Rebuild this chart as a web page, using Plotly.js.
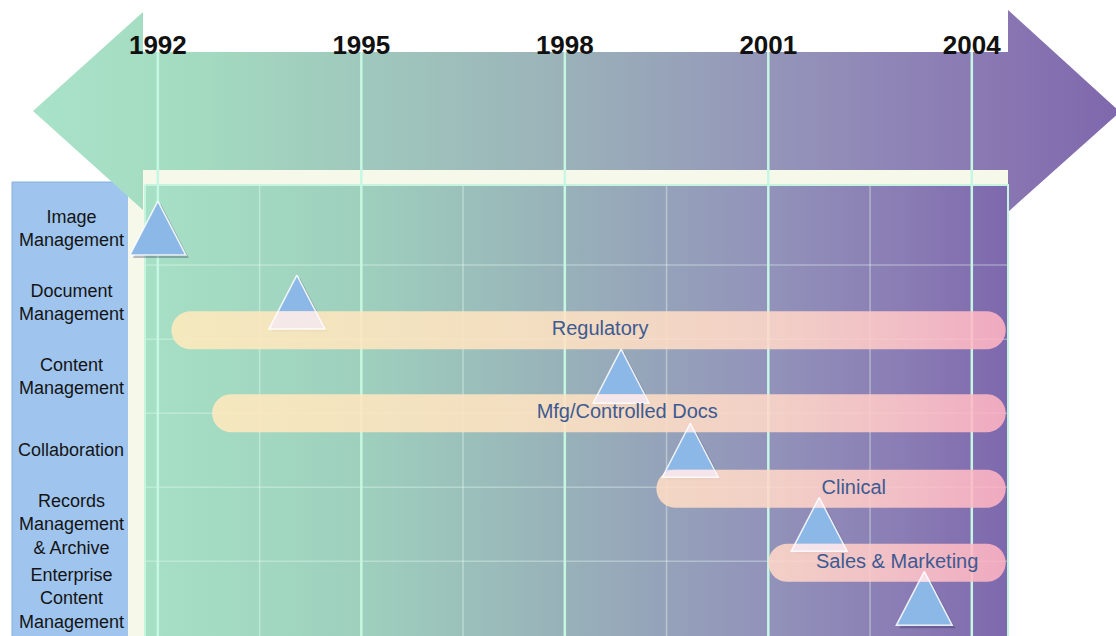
<!DOCTYPE html>
<html><head><meta charset="utf-8">
<script src="https://cdn.plot.ly/plotly-3.0.1.min.js"></script>
<style>html,body{margin:0;padding:0;background:#fff;}#chart{width:1116px;height:636px;}</style>
</head><body><div id="chart"></div>
<script>
// ---------------- data ----------------
const categories = ["Image<br>Management", "Document<br>Management", "Content<br>Management",
  "Collaboration", "Records<br>Management<br>& Archive", "Enterprise<br>Content<br>Management"];
const tickYears = [1992, 1995, 1998, 2001, 2004];
const tickLabels = ["1992", "1995", "1998", "2001", "2004"];
const minorYears = [1993.5, 1996.5, 1999.5, 2002.5];
const rowBoundaries = [0.5, 1.5, 2.5, 3.5, 4.5];
// milestone triangles (one per category)
const milestoneYear = [1992.0, 1994.05, 1998.83, 1999.85, 2001.75, 2003.3];
const milestoneRow = [0, 1, 2, 3, 4, 5];
// industry segments (rounded bars)
const segments = ["Regulatory", "Mfg/Controlled Docs", "Clinical", "Sales & Marketing"];
const segStart = [1992.2, 1992.8, 1999.35, 2001.0];
const segEnd = [2004.5, 2004.5, 2004.5, 2004.5];
const segRow = [1.38, 2.5, 3.52, 4.52];
const segLabelYear = [1998.52, 1998.92, 2002.26, 2002.9];

// ---------------- scales ----------------
const W = 1116, H = 636;
const X_RANGE = [1989.673, 2006.126];
const Y_RANGE = [5.508, -3.079];
const pxPerYear = W / (X_RANGE[1] - X_RANGE[0]);
const pxPerRow = H / (Y_RANGE[0] - Y_RANGE[1]);
const yearAtPx = px => X_RANGE[0] + px / pxPerYear;
const rowAtPx = py => Y_RANGE[1] + py / pxPerRow;

// ---------------- decoration (pixel axes) ----------------
function deco(xs, ys, opts) {
  return Object.assign({type: 'scatter', x: xs, y: ys, fill: 'toself', hoverinfo: 'skip',
    showlegend: false, xaxis: 'x', yaxis: 'y'}, opts);
}
const traces = [];
traces.push(deco([12, 129, 129, 12, 12], [182, 182, 640, 640, 182],
  {mode: 'lines', fillcolor: '#9fc5ef', line: {color: '#88b0e0', width: 1}}));
traces.push(deco([128, 1008, 1008, 145, 145, 128, 128], [170, 170, 186, 186, 640, 640, 170],
  {mode: 'none', fillcolor: '#f6f8ea'}));
traces.push(deco(
  [33, 143, 143, 1008, 1008, 1120, 1008, 1008, 143, 143, 33],
  [111, 12, 52, 52, 10, 112, 212, 170, 170, 210, 111],
  {mode: 'none', fillgradient: {type: 'horizontal', start: 33, stop: 1116,
    colorscale: [[0, '#a8e2c8'], [0.15, '#a3dbc0'], [0.48, '#9bb3b9'], [0.71, '#9391b9'],
      [0.89, '#8977b2'], [1, '#7f68ad']]}}));
traces.push(deco([145, 1008, 1008, 145, 145], [185, 185, 640, 640, 185],
  {mode: 'lines', line: {color: '#c6f4df', width: 2},
    fillgradient: {type: 'horizontal', start: 145, stop: 1008,
      colorscale: [[0, '#a6e0c5'], [0.25, '#9ed0bd'], [0.48, '#98b2b9'], [0.72, '#9293ba'],
        [0.88, '#8a7cb4'], [1, '#7d68ad']]}}));

// ---------------- data layer ----------------
function dataTrace(opts) {
  return Object.assign({type: 'scatter', hoverinfo: 'skip', showlegend: false, xaxis: 'x2', yaxis: 'y2'}, opts);
}
// horizontal row dividers
let hx = [], hy = [];
rowBoundaries.forEach(r => { hx.push(yearAtPx(146), yearAtPx(1007), null); hy.push(r, r, null); });
traces.push(dataTrace({mode: 'lines', x: hx, y: hy, line: {color: 'rgba(235,255,245,0.35)', width: 1.5}}));
// minor vertical lines
let mx = [], my = [];
minorYears.forEach(m => { mx.push(m, m, null); my.push(rowAtPx(186), Y_RANGE[0], null); });
traces.push(dataTrace({mode: 'lines', x: mx, y: my, line: {color: 'rgba(235,255,245,0.4)', width: 1.5}}));
// major year lines
let tx = [], ty = [];
tickYears.forEach(t => { tx.push(t, t, null); ty.push(rowAtPx(52), Y_RANGE[0], null); });
traces.push(dataTrace({mode: 'lines', x: tx, y: ty, line: {color: '#c6f7e2', width: 2.5}}));

// triangles
const HW = 28 / pxPerYear, HH = 27 / pxPerRow;
function triPath(dxPx, dyPx) {
  const xs = [], ys = [];
  const ox = dxPx / pxPerYear, oy = dyPx / pxPerRow;
  milestoneYear.forEach((yr, i) => {
    const r = milestoneRow[i];
    xs.push(yr + ox, yr + HW + ox, yr - HW + ox, yr + ox, null);
    ys.push(r - HH + oy, r + HH + oy, r + HH + oy, r - HH + oy, null);
  });
  return {x: xs, y: ys};
}
const sh = triPath(3, 3);
traces.push(dataTrace({mode: 'none', fill: 'toself', x: sh.x, y: sh.y, fillcolor: 'rgba(40,40,80,0.3)'}));
const tr = triPath(0, 0);
traces.push(dataTrace({mode: 'none', fill: 'toself', x: tr.x, y: tr.y, fillcolor: '#8cb8e7'}));

// rounded bars
const R = 19;
const RX = R / pxPerYear, RY = R / pxPerRow;
let bx = [], by = [];
segments.forEach((s, i) => {
  const r = segRow[i];
  const xr = segEnd[i] - RX, xl = segStart[i] + RX;
  const sx = [], sy = [];
  for (let a = -90; a <= 90; a += 10) { const t = a * Math.PI / 180; sx.push(xr + RX * Math.cos(t)); sy.push(r + RY * Math.sin(t)); }
  for (let a = 90; a <= 270; a += 10) { const t = a * Math.PI / 180; sx.push(xl + RX * Math.cos(t)); sy.push(r + RY * Math.sin(t)); }
  sx.push(sx[0]); sy.push(sy[0]);
  bx.push(...sx, null); by.push(...sy, null);
});
traces.push(dataTrace({mode: 'none', fill: 'toself', x: bx, y: by, opacity: 0.88,
  fillgradient: {type: 'horizontal', start: yearAtPx(160), stop: yearAtPx(1008),
    colorscale: [[0, '#ffeabc'], [0.45, '#ffe3c2'], [0.72, '#ffd8c8'], [0.88, '#ffc6c8'], [1, '#ffb2c2']]}}));

// light strip where a triangle sits under a bar
let px_ = [], py_ = [];
milestoneYear.forEach((yr, i) => {
  const r = milestoneRow[i];
  const top = r - HH, bot = r + HH;
  segRow.forEach((sr, j) => {
    if (yr < segStart[j] || yr > segEnd[j]) return;
    const y0 = Math.max(top, sr - RY), y1 = Math.min(bot, sr + RY);
    if (y1 <= y0) return;
    const w = y => HW * (y - top) / (bot - top);
    px_.push(yr - w(y0), yr + w(y0), yr + w(y1), yr - w(y1), yr - w(y0), null);
    py_.push(y0, y0, y1, y1, y0, null);
  });
});
traces.push(dataTrace({mode: 'none', fill: 'toself', x: px_, y: py_, fillcolor: 'rgba(246,234,246,0.75)'}));
// triangle outlines
traces.push(dataTrace({mode: 'lines', x: tr.x, y: tr.y, line: {color: 'rgba(255,255,255,0.85)', width: 1.5}}));

// bar labels
traces.push(dataTrace({mode: 'text', x: segLabelYear, y: segRow, text: segments,
  textposition: 'middle center', textfont: {family: 'Liberation Sans, Arial, sans-serif', size: 20, color: '#3d5a92'}}));

// category labels in the sidebar
const annotations = categories.map((c, i) => ({
  text: c, xref: 'x', yref: 'y2', x: 71, y: milestoneRow[i], showarrow: false, align: 'center',
  xanchor: 'center', yanchor: 'middle',
  font: {family: 'Liberation Sans, Arial, sans-serif', size: 18, color: '#141414'}
}));

const layout = {
  width: W, height: H, margin: {l: 0, r: 0, t: 0, b: 0}, autosize: false,
  paper_bgcolor: '#ffffff', plot_bgcolor: 'rgba(0,0,0,0)', showlegend: false, hovermode: false,
  xaxis: {range: [0, W], visible: false, fixedrange: true, domain: [0, 1]},
  yaxis: {range: [H, 0], visible: false, fixedrange: true, domain: [0, 1]},
  xaxis2: {overlaying: 'x', range: X_RANGE, side: 'top', anchor: 'free', position: 0.907,
    tickmode: 'array', tickvals: tickYears, ticktext: tickLabels, ticks: '', showgrid: false,
    zeroline: false, showline: false, fixedrange: true,
    tickfont: {family: 'Liberation Sans, Arial, sans-serif', size: 26, color: '#111', weight: 'bold'}},
  yaxis2: {overlaying: 'y', range: Y_RANGE, visible: false, fixedrange: true},
  annotations: annotations
};
Plotly.newPlot('chart', traces, layout, {displayModeBar: false, staticPlot: true});
</script></body></html>
